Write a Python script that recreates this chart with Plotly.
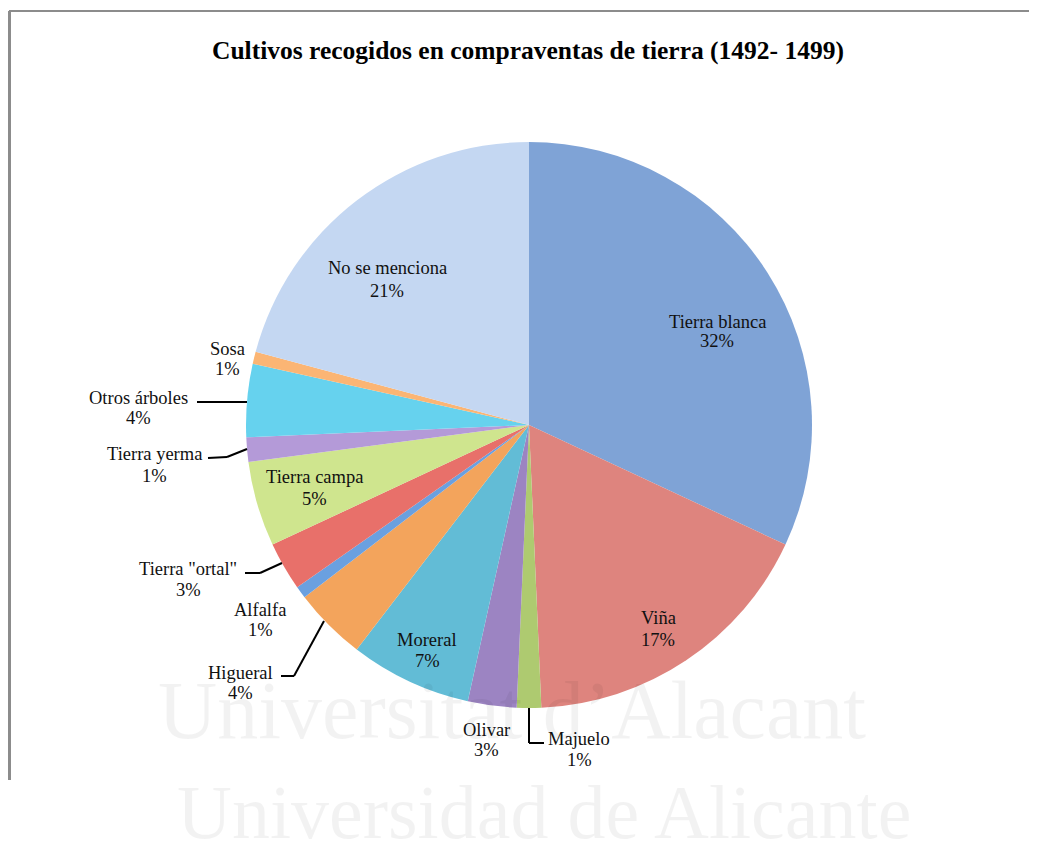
import plotly.graph_objects as go

# page has an 8px body margin; figure sized to fit the 1037x850 window
OFF = 8
W, H = 1037 - OFF, 850 - OFF

categories = ["Tierra blanca", "Viña", "Majuelo", "Olivar", "Moreral", "Higueral",
              "Alfalfa", "Tierra \"ortal\"", "Tierra campa", "Tierra yerma",
              "Otros árboles", "Sosa", "No se menciona"]
counts = [46, 25, 2, 4, 10, 6, 1, 4, 7, 2, 6, 1, 30]
colors = ["#7fa3d6", "#de847e", "#aeca70", "#9c84c2", "#62bcd6", "#f3a45c",
          "#6aa0e0", "#e8706a", "#cfe58e", "#b49ad8", "#66d2ee", "#fbb574", "#c4d7f2"]

title_text = "Cultivos recogidos en compraventas de tierra (1492- 1499)"

# label text placement in window pixels: (x, y of name line, y of percent line)
label_pos = {
    "Tierra blanca": (717, 322, 341), "Viña": (658, 618, 640), "Majuelo": (579, 739, 760),
    "Olivar": (486, 730, 750), "Moreral": (427, 640, 661), "Higueral": (240, 673, 693),
    "Alfalfa": (260, 610, 630), "Tierra \"ortal\"": (188, 569, 590),
    "Tierra campa": (314, 477, 499), "Tierra yerma": (154, 454, 476),
    "Otros árboles": (138, 398, 418), "Sosa": (227, 349, 369),
    "No se menciona": (387, 268, 291),
}
leaders = [
    [(529, 708), (529, 743), (544, 743)],
    [(324, 621), (294, 676), (281, 676)],
    [(282, 563), (260, 573), (245, 573)],
    [(247, 449), (227, 457), (208, 458)],
    [(197, 402), (247, 402)],
]

def px(x):
    return (x - OFF) / W

def py(y):
    return 1 - (y - OFF) / H

cx, cy, r = 529, 425, 283

fig = go.Figure(go.Pie(
    labels=categories, values=counts, sort=False, direction="clockwise", rotation=0,
    marker=dict(colors=colors, line=dict(width=0)),
    textinfo="none", hoverinfo="label+percent", showlegend=False,
    domain=dict(x=[px(cx - r), px(cx + r)], y=[py(cy + r), py(cy - r)]),
))

LABEL_FONT = dict(family="Liberation Serif", size=18.5, color="#111111")

total = sum(counts)
annotations = []
for cat, v in zip(categories, counts):
    x, y1, y2 = label_pos[cat]
    pct = round(100 * v / total)
    annotations.append(dict(x=px(x), y=py(y1), xref="paper", yref="paper", showarrow=False,
                            xanchor="center", yanchor="middle", text=cat, font=LABEL_FONT))
    annotations.append(dict(x=px(x), y=py(y2), xref="paper", yref="paper", showarrow=False,
                            xanchor="center", yanchor="middle", text=f"{pct}%", font=LABEL_FONT))

annotations.append(dict(
    x=px(528), y=py(51), xref="paper", yref="paper", showarrow=False,
    xanchor="center", yanchor="middle",
    text=f"<b>{title_text}</b>",
    font=dict(family="Liberation Serif", size=25.5, color="#000000"),
))
# watermark
annotations.append(dict(
    x=px(512), y=py(710), xref="paper", yref="paper", showarrow=False,
    xanchor="center", yanchor="middle",
    text="Universitat d’Alacant",
    font=dict(family="Liberation Serif", size=82, color="rgba(0,0,0,0.05)"),
))
annotations.append(dict(
    x=px(544), y=py(812), xref="paper", yref="paper", showarrow=False,
    xanchor="center", yanchor="middle",
    text="Universidad de Alicante",
    font=dict(family="Liberation Serif", size=76, color="rgba(0,0,0,0.05)"),
))

shapes = []
for pts in leaders:
    for (x0, y0), (x1, y1) in zip(pts[:-1], pts[1:]):
        shapes.append(dict(type="line", xref="paper", yref="paper",
                           x0=px(x0), y0=py(y0), x1=px(x1), y1=py(y1),
                           line=dict(color="#000000", width=2)))
# chart area border (top and left visible)
shapes.append(dict(type="line", xref="paper", yref="paper", x0=px(9), y0=py(11), x1=1, y1=py(11),
                   line=dict(color="#8c8c8c", width=2)))
shapes.append(dict(type="line", xref="paper", yref="paper", x0=px(9.5), y0=py(11), x1=px(9.5), y1=py(780),
                   line=dict(color="#8c8c8c", width=3)))

fig.update_layout(
    width=W, height=H, margin=dict(l=0, r=0, t=0, b=0),
    paper_bgcolor="white", plot_bgcolor="white",
    annotations=annotations, shapes=shapes,
)

fig.write_html("out.html")
